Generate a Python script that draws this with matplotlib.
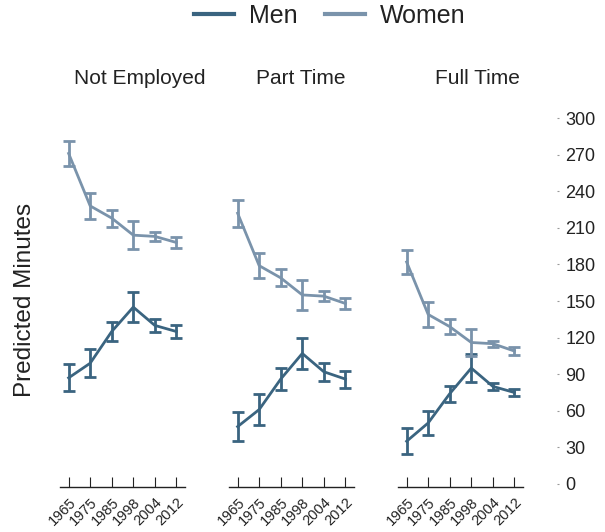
import matplotlib.pyplot as plt
import numpy as np
from matplotlib.lines import Line2D

plt.rcParams['font.family'] = ['Liberation Sans', 'DejaVu Sans']

years = ['1965', '1975', '1985', '1998', '2004', '2012']
panels = ['Not Employed', 'Part Time', 'Full Time']

men = [
    [87, 99, 125, 145, 130, 125],
    [47, 61, 86, 107, 92, 86],
    [35, 50, 74, 95, 80, 75],
]
men_err = [
    [11, 11.5, 8, 12, 5, 5],
    [12, 13, 9, 13, 7.5, 7],
    [10.5, 10, 6.5, 11.5, 3, 2.5],
]
women = [
    [271, 228, 218, 204, 203, 198],
    [222, 179, 169, 155, 154, 148],
    [182, 139, 129, 116, 115, 109],
]
women_err = [
    [10, 10.5, 7, 11.5, 4, 4.5],
    [11, 10.5, 7, 12, 4, 4.5],
    [10, 10, 6, 11, 2.5, 3],
]

men_color = '#3a6480'
women_color = '#7a93ab'
dark = '#222222'

fig = plt.figure(figsize=(6.05, 5.32), dpi=100)
lefts = [60 / 605, 229 / 605, 398 / 605]
title_x = [140 / 605, 301 / 605, 477 / 605]
x = np.arange(len(years))

for i, name in enumerate(panels):
    ax = fig.add_axes([lefts[i], 45 / 532, 125 / 605, 375 / 532])
    ax.errorbar(x, men[i], yerr=men_err[i], color=men_color, lw=2,
                capsize=4.5, capthick=2)
    ax.errorbar(x, women[i], yerr=women_err[i], color=women_color, lw=2,
                capsize=4.5, capthick=2)
    ax.set_xlim(-0.4, 5.4)
    ax.set_ylim(-2.5, 305)
    # panel titles sit a bit right of the axes centre
    fig.text(title_x[i], 1 - 78 / 532, name, fontsize=15, ha='center',
             va='center', color=dark)
    for s in ['top', 'left', 'right']:
        ax.spines[s].set_visible(False)
    ax.spines['bottom'].set_color(dark)
    ax.spines['bottom'].set_linewidth(1)
    ax.set_xticks(x)
    ax.set_xticklabels(years, rotation=45, ha='right', rotation_mode='anchor',
                       fontsize=10.5, color=dark)
    ax.tick_params(axis='x', direction='in', length=7, color=dark, pad=6)
    if i == 2:
        ax.yaxis.tick_right()
        ax.spines['right'].set_position(('outward', 24.5))
        ax.set_yticks(np.arange(0, 301, 30))
        ax.tick_params(axis='y', length=1.5, color='#999999', labelsize=13,
                       labelcolor=dark, pad=4.5)
    else:
        ax.set_yticks([])

fig.text(25 / 605, 1 - 300 / 532, 'Predicted Minutes', rotation=90, fontsize=17.5,
         ha='center', va='center', color=dark)

h = [Line2D([], [], color=men_color, lw=3), Line2D([], [], color=women_color, lw=3)]
fig.legend(h, ['Men', 'Women'], loc='upper center', bbox_to_anchor=(330 / 605, 1.035),
           ncol=2, frameon=False, fontsize=18, handlelength=1.6,
           handletextpad=0.6, columnspacing=1.1, labelcolor=dark)

fig.savefig('out.png', dpi=100)
